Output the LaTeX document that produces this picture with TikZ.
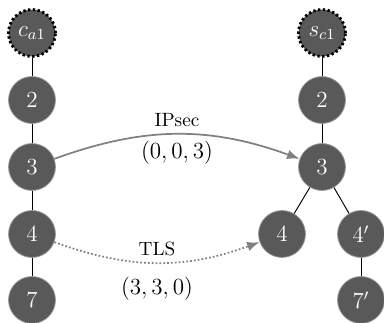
\documentclass[tikz,border=0pt]{standalone}
\usetikzlibrary{arrows.meta}
\begin{document}
\begin{tikzpicture}[x=0.52pt,y=-0.52pt,
  vnode/.style={circle,fill=black!65,draw=black!40,line width=0.4pt,text=white,
    minimum size=24.4pt,inner sep=0pt,font=\large},
  endnode/.style={vnode,draw=black,line width=1.5pt,dash pattern=on 1.2pt off 1.3pt},
  link/.style={draw=black,line width=0.5pt},
  flow/.style={draw=black!50,line width=0.9pt,-{Latex[length=6.5pt,width=5pt]}},
  dflow/.style={flow,dash pattern=on 0.9pt off 1.1pt},
  lab/.style={font=\normalsize,inner sep=3.3pt},
  mlab/.style={font=\large,inner sep=3.3pt}]
\useasboundingbox (0,0) rectangle (384,323);
% left column
\node[endnode] (ca) at (32,33) {$c_{a1}$};
\node[vnode] (l2) at (32,100) {$2$};
\node[vnode] (l3) at (32,167) {$3$};
\node[vnode] (l4) at (32,234) {$4$};
\node[vnode] (l7) at (32,300) {$7$};
% right column
\node[endnode] (sc) at (322,33) {$s_{c1}$};
\node[vnode] (r2) at (322,100) {$2$};
\node[vnode] (r3) at (322,167) {$3$};
\node[vnode] (r4) at (282,234) {$4$};
\node[vnode] (r4p) at (361,234) {$4'$};
\node[vnode] (r7p) at (361,300) {$7'$};
% links
\draw[link] (ca) -- (l2);
\draw[link] (l2) -- (l3);
\draw[link] (l3) -- (l4);
\draw[link] (l4) -- (l7);
\draw[link] (sc) -- (r2);
\draw[link] (r2) -- (r3);
\draw[link] (r3) -- (r4);
\draw[link] (r3) -- (r4p);
\draw[link] (r4p) -- (r7p);
% flows
\draw[flow] (l3) to[bend left=20]
  node[lab,above] {IPsec}
  node[mlab,below] {$(0,0,3)$} (r3);
\draw[dflow] (l4) to[bend right=20]
  node[lab,above] {TLS}
  node[mlab,below,yshift=-4pt] {$(3,3,0)$} (r4);
\end{tikzpicture}
\end{document}
